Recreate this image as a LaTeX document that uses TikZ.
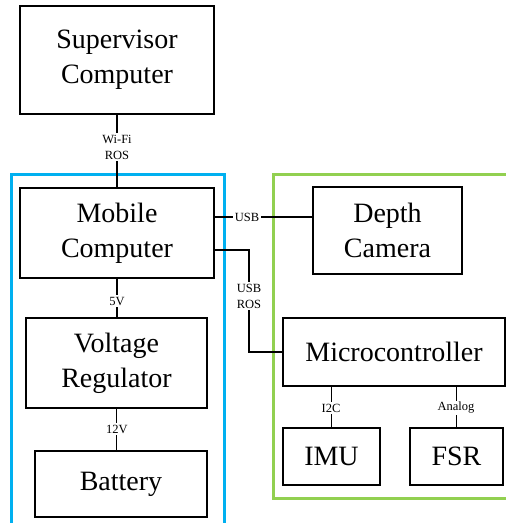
\documentclass[tikz,border=0pt]{standalone}
\usepackage{fontspec}
\setmainfont{Liberation Serif}
\definecolor{cyanbox}{RGB}{0,176,240}
\definecolor{greenbox}{RGB}{146,208,80}
\begin{document}
\begin{tikzpicture}[x=1pt,y=-1pt,
  blk/.style={draw=black,line width=1.8pt,align=center,inner sep=0pt,font=\fontsize{28}{35}\selectfont},
  wire/.style={draw=black,line width=1.8pt},
  lbl/.style={fill=white,inner sep=1.5pt,align=center,font=\fontsize{12.5}{16}\selectfont},
  grp/.style={line width=3pt}]
\useasboundingbox (0,0) rectangle (506,523);
\clip (0,0) rectangle (506,523);
\draw[grp,draw=cyanbox] (11,174) rectangle (224,540);
\draw[grp,draw=greenbox] (273,174) rectangle (520,498);
\node[blk,minimum width=194pt,minimum height=108pt] (sup) at (117,60) {Supervisor\\Computer};
\node[blk,minimum width=194pt,minimum height=90pt] (mob) at (117,233) {Mobile\\Computer};
\node[blk,minimum width=181pt,minimum height=90pt] (vol) at (116.5,363) {Voltage\\Regulator};
\node[blk,minimum width=172pt,minimum height=66pt] (bat) at (121,484) {Battery};
\node[blk,minimum width=149pt,minimum height=87pt] (dep) at (387.5,230.5) {Depth\\Camera};
\node[blk,minimum width=222pt,minimum height=68pt] (mic) at (394,352) {Microcontroller};
\node[blk,minimum width=97pt,minimum height=57pt] (imu) at (331.5,456.5) {IMU};
\node[blk,minimum width=93pt,minimum height=57pt] (fsr) at (456.5,456.5) {FSR};
\coordinate (k1) at (249,296);
\draw[wire] (sup.south) -- (sup.south |- mob.north);
\draw[wire] (mob.south) -- (mob.south |- vol.north);
\draw[wire] (vol.south) -- (vol.south |- bat.north);
\draw[wire] ([yshift=16pt]mob.east) coordinate (u1) -- (u1 -| dep.west);
\draw[wire] ([yshift=-17pt]mob.east) -| (k1) |- (mic.west);
\draw[wire] (mic.south -| imu.north) -- (imu.north);
\draw[wire] (mic.south -| fsr.north) -- (fsr.north);
\node[lbl] (lwifi) at (117,147) {Wi-Fi\\ROS};
\node[lbl] (l5v) at (117,301) {5V};
\node[lbl] (l12v) at (117,429) {12V};
\node[lbl] (lusb) at (247,217) {USB};
\node[lbl] (lusbros) at (k1) {USB\\ROS};
\node[lbl] (li2c) at (331,408) {I2C};
\node[lbl] (lan) at (456,408) {Analog};
\end{tikzpicture}
\end{document}
